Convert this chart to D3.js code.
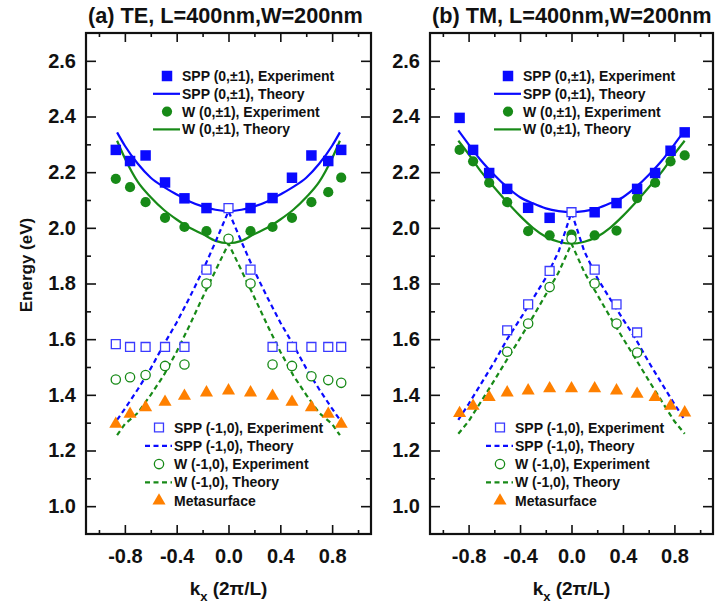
<!DOCTYPE html>
<html>
<head>
<meta charset="utf-8">
<script src="https://cdn.jsdelivr.net/npm/d3@7"></script>
<style>
  body { margin: 0; background: #fff; }
  text { font-family: Arial, "Liberation Sans", sans-serif; font-weight: bold; fill: #111; }
</style>
</head>
<body>
<svg id="chart" width="721" height="608"></svg>
<script>
// ---- panel (a) TE ----
var kxExpA = [-0.87, -0.76, -0.64, -0.49, -0.34, -0.17, 0, 0.17, 0.34, 0.49, 0.64, 0.77, 0.87];
var sppExpA = [2.28, 2.24, 2.26, 2.163, 2.106, 2.071, null, 2.071, 2.107, 2.18, 2.26, 2.24, 2.28];
var wExpA = [2.176, 2.146, 2.092, 2.036, 2.003, 1.988, null, 1.988, 2.003, 2.036, 2.092, 2.128, 2.18];
var sppM1ExpA = [1.582, 1.572, 1.572, 1.572, 1.572, 1.85, 2.071, 1.85, 1.572, 1.572, 1.572, 1.572, 1.572];
var wM1ExpA = [1.455, 1.463, 1.471, 1.504, 1.509, 1.80, 1.961, 1.80, 1.509, 1.504, 1.467, 1.453, 1.443];
var metaA = [1.295, 1.331, 1.355, 1.374, 1.396, 1.408, 1.415, 1.408, 1.396, 1.374, 1.355, 1.331, 1.295];

var kxThA = [-0.86, -0.8, -0.7, -0.6, -0.5, -0.4, -0.3, -0.2, -0.1, 0, 0.1, 0.2, 0.3, 0.4, 0.5, 0.6, 0.7, 0.8, 0.86];
var sppThA = [2.343, 2.295, 2.23, 2.18, 2.147, 2.12, 2.095, 2.077, 2.065, 2.06, 2.065, 2.077, 2.095, 2.12, 2.147, 2.18, 2.23, 2.295, 2.343];
var wThA = [2.313, 2.25, 2.165, 2.11, 2.065, 2.03, 2.0, 1.978, 1.953, 1.945, 1.953, 1.978, 2.0, 2.03, 2.065, 2.11, 2.165, 2.25, 2.313];
var sppM1ThA = [1.31, 1.35, 1.42, 1.495, 1.58, 1.66, 1.75, 1.845, 1.95, 2.06, 1.95, 1.845, 1.75, 1.66, 1.58, 1.495, 1.42, 1.35, 1.31];
var wM1ThA = [1.255, 1.295, 1.335, 1.40, 1.47, 1.555, 1.65, 1.75, 1.847, 1.943, 1.847, 1.75, 1.65, 1.555, 1.47, 1.40, 1.335, 1.295, 1.255];

// ---- panel (b) TM ----
var kxExpB = [-0.87, -0.765, -0.64, -0.5, -0.337, -0.17, 0, 0.18, 0.35, 0.51, 0.65, 0.77, 0.88];
var sppExpB = [2.395, 2.28, 2.197, 2.14, 2.072, 2.036, null, 2.056, 2.089, 2.14, 2.197, 2.277, 2.343];
var wExpB = [2.28, 2.239, 2.162, 2.092, 1.988, 1.973, 1.976, 1.973, 1.99, 2.107, 2.162, 2.239, 2.26];
var sppM1ExpB = [null, null, null, 1.632, 1.725, 1.845, 2.056, 1.85, 1.725, 1.624, null, null, null];
var wM1ExpB = [null, null, null, 1.555, 1.656, 1.787, 1.961, 1.80, 1.656, 1.552, null, null, null];
var metaB = [1.334, 1.36, 1.391, 1.408, 1.415, 1.423, 1.423, 1.423, 1.415, 1.403, 1.391, 1.36, 1.336];

var kxThB = [-0.88, -0.8, -0.7, -0.6, -0.5, -0.4, -0.3, -0.2, -0.1, 0, 0.1, 0.2, 0.3, 0.4, 0.5, 0.6, 0.7, 0.8, 0.88];
var sppThB = [2.35, 2.30, 2.24, 2.19, 2.146, 2.11, 2.088, 2.07, 2.06, 2.056, 2.06, 2.07, 2.088, 2.11, 2.146, 2.19, 2.24, 2.30, 2.35];
var wThB = [2.313, 2.265, 2.2, 2.145, 2.092, 2.043, 2.0, 1.968, 1.95, 1.943, 1.95, 1.968, 2.0, 2.043, 2.092, 2.145, 2.2, 2.265, 2.313];
var sppM1ThB = [1.31, 1.367, 1.442, 1.518, 1.60, 1.672, 1.745, 1.82, 1.915, 2.056, 1.915, 1.82, 1.745, 1.672, 1.60, 1.518, 1.442, 1.367, 1.31];
var wM1ThB = [1.26, 1.305, 1.378, 1.452, 1.528, 1.603, 1.68, 1.76, 1.84, 1.943, 1.84, 1.76, 1.68, 1.603, 1.528, 1.452, 1.378, 1.305, 1.26];

// ---- axes ----
var xMajor = [-0.8, -0.4, 0, 0.4, 0.8];
var xMinor = [-1.0, -0.6, -0.2, 0.2, 0.6, 1.0];
var yMajor = [1.0, 1.2, 1.4, 1.6, 1.8, 2.0, 2.2, 2.4, 2.6];
var yMinor = [1.1, 1.3, 1.5, 1.7, 1.9, 2.1, 2.3, 2.5];

var legendTop = ["SPP (0,\u00b11), Experiment", "SPP (0,\u00b11), Theory", "W (0,\u00b11), Experiment", "W (0,\u00b11), Theory"];
var legendBottom = ["SPP (-1,0), Experiment", "SPP (-1,0), Theory", "W (-1,0), Experiment", "W (-1,0), Theory", "Metasurface"];

var BLUE = "#0a0aff", BLUE_OPEN = "#3a3aff", GREEN = "#178a17", ORANGE = "#ff8000";

var svg = d3.select("#chart");
var plotTop = 33, plotBottom = 534;

var panels = [
    { left: 86, right: 371, title: "(a) TE, L=400nm,W=200nm",
      kxExp: kxExpA, sppExp: sppExpA, wExp: wExpA, sppM1Exp: sppM1ExpA, wM1Exp: wM1ExpA, meta: metaA,
      kxTh: kxThA, sppTh: sppThA, wTh: wThA, sppM1Th: sppM1ThA, wM1Th: wM1ThA,
      legTopX: 167, legBotX: 159 },
    { left: 430, right: 713, title: "(b) TM, L=400nm,W=200nm",
      kxExp: kxExpB, sppExp: sppExpB, wExp: wExpB, sppM1Exp: sppM1ExpB, wM1Exp: wM1ExpB, meta: metaB,
      kxTh: kxThB, sppTh: sppThB, wTh: wThB, sppM1Th: sppM1ThB, wM1Th: wM1ThB,
      legTopX: 508, legBotX: 500 }
];

var y = d3.scaleLinear().domain([0.9, 2.7]).range([plotBottom, plotTop]);
var fmt = function(d) { return d.toFixed(1); };

var symSquare = d3.symbol().type(d3.symbolSquare).size(110);
var symCircle = d3.symbol().type(d3.symbolCircle).size(82);
var symSquareOpen = d3.symbol().type(d3.symbolSquare).size(80);
var symCircleOpen = d3.symbol().type(d3.symbolCircle).size(68);
var symTriangle = d3.symbol().type(d3.symbolTriangle).size(74);

panels.forEach(drawPanel);

// y axis title
svg.append("text")
    .attr("transform", "translate(32,265) rotate(-90)")
    .attr("text-anchor", "middle")
    .style("font-size", "17px")
    .text("Energy (eV)");

function drawPanel(p) {
    var x = d3.scaleLinear().domain([-1.1, 1.1]).range([p.left, p.right]);
    var g = svg.append("g");

    // title
    g.append("text")
        .attr("x", p.left + 2).attr("y", 23)
        .style("font-size", "21.7px")
        .text(p.title);

    // ticks, all pointing inward
    var axisLayer = g.append("g");
    function addAxis(axis, tx, ty, labels) {
        var a = axisLayer.append("g").attr("transform", "translate(" + tx + "," + ty + ")").call(axis);
        a.select(".domain").remove();
        a.selectAll("line").attr("stroke", "#111").attr("stroke-width", 1.6);
        a.selectAll("text").style("font-size", "20px").attr("fill", "#111");
        if (!labels) a.selectAll("text").remove();
        return a;
    }
    addAxis(d3.axisBottom(x).tickValues(xMajor).tickSizeInner(-9).tickSizeOuter(0).tickPadding(15).tickFormat(fmt), 0, plotBottom, true);
    addAxis(d3.axisBottom(x).tickValues(xMinor).tickSizeInner(-4).tickSizeOuter(0), 0, plotBottom, false);
    addAxis(d3.axisTop(x).tickValues(xMajor).tickSizeInner(-9).tickSizeOuter(0), 0, plotTop, false);
    addAxis(d3.axisTop(x).tickValues(xMinor).tickSizeInner(-4).tickSizeOuter(0), 0, plotTop, false);
    addAxis(d3.axisLeft(y).tickValues(yMajor).tickSizeInner(-10).tickSizeOuter(0).tickPadding(10).tickFormat(fmt), p.left, 0, true);
    addAxis(d3.axisLeft(y).tickValues(yMinor).tickSizeInner(-5).tickSizeOuter(0), p.left, 0, false);
    addAxis(d3.axisRight(y).tickValues(yMajor).tickSizeInner(-10).tickSizeOuter(0), p.right, 0, false);
    addAxis(d3.axisRight(y).tickValues(yMinor).tickSizeInner(-5).tickSizeOuter(0), p.right, 0, false);

    // frame
    g.append("rect")
        .attr("x", p.left).attr("y", plotTop)
        .attr("width", p.right - p.left).attr("height", plotBottom - plotTop)
        .attr("fill", "none").attr("stroke", "#111").attr("stroke-width", 2.2);

    // x axis title
    var xl = g.append("text")
        .attr("x", (p.left + p.right) / 2).attr("y", 595)
        .attr("text-anchor", "middle")
        .style("font-size", "19px");
    xl.append("tspan").text("k");
    xl.append("tspan").attr("dy", 6).style("font-size", "13px").text("x");
    xl.append("tspan").attr("dy", -6).text(" (2\u03c0/L)");

    // theory curves
    function curve(vals, color, dashed, smooth) {
        var pts = p.kxTh.map(function(k, i) { return [k, vals[i]]; });
        var line = d3.line()
            .x(function(d) { return x(d[0]); })
            .y(function(d) { return y(d[1]); })
            .curve(smooth ? d3.curveMonotoneX : d3.curveLinear);
        g.append("path")
            .attr("d", line(pts))
            .attr("fill", "none")
            .attr("stroke", color)
            .attr("stroke-width", 2.2)
            .attr("stroke-dasharray", dashed ? "5,3.5" : null);
    }
    curve(p.sppTh, BLUE, false, true);
    curve(p.wTh, GREEN, false, true);
    curve(p.sppM1Th, BLUE, true, false);
    curve(p.wM1Th, GREEN, true, false);

    // experimental points
    function points(vals, sym, fill, stroke) {
        var pts = p.kxExp.map(function(k, i) { return [k, vals[i]]; })
            .filter(function(d) { return d[1] != null; });
        g.append("g").selectAll("path")
            .data(pts)
            .join("path")
            .attr("d", sym)
            .attr("transform", function(d) { return "translate(" + x(d[0]) + "," + y(d[1]) + ")"; })
            .attr("fill", fill)
            .attr("stroke", stroke)
            .attr("stroke-width", stroke == "none" ? 0 : 1.3);
    }
    points(p.meta, symTriangle, ORANGE, "none");
    points(p.wExp, symCircle, GREEN, "none");
    points(p.sppExp, symSquare, BLUE, "none");
    points(p.wM1Exp, symCircleOpen, "#fff", GREEN);
    points(p.sppM1Exp, symSquareOpen, "#fff", BLUE_OPEN);

    // legends
    var topItems = [
        { sym: symSquare, fill: BLUE, stroke: "none" },
        { line: BLUE, dash: false },
        { sym: symCircle, fill: GREEN, stroke: "none" },
        { line: GREEN, dash: false }
    ];
    var botItems = [
        { sym: symSquareOpen, fill: "#fff", stroke: BLUE_OPEN },
        { line: BLUE, dash: true },
        { sym: symCircleOpen, fill: "#fff", stroke: GREEN },
        { line: GREEN, dash: true },
        { sym: symTriangle, fill: ORANGE, stroke: "none" }
    ];
    drawLegend(g, p.legTopX, 76, 17.8, topItems, legendTop);
    drawLegend(g, p.legBotX, 427.5, 18.3, botItems, legendBottom);
}

function drawLegend(g, mx, y0, step, items, labels) {
    var lg = g.append("g");
    items.forEach(function(it, i) {
        var yy = y0 + i * step;
        if (it.sym) {
            lg.append("path")
                .attr("d", it.sym)
                .attr("transform", "translate(" + mx + "," + yy + ")")
                .attr("fill", it.fill)
                .attr("stroke", it.stroke)
                .attr("stroke-width", it.stroke == "none" ? 0 : 1.3);
        } else {
            lg.append("line")
                .attr("x1", mx - 14).attr("x2", mx + 13)
                .attr("y1", yy).attr("y2", yy)
                .attr("stroke", it.line)
                .attr("stroke-width", 2.2)
                .attr("stroke-dasharray", it.dash ? "5,3.5" : null);
        }
        lg.append("text")
            .attr("x", mx + 15).attr("y", yy)
            .attr("dy", "0.36em")
            .style("font-size", "14px")
            .text(labels[i]);
    });
}
</script>
</body>
</html>
